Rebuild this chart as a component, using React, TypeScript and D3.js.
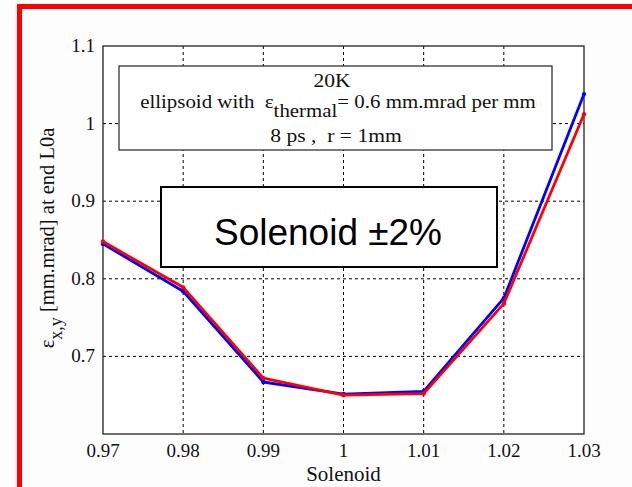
import React, { useEffect, useRef } from "react";
import * as d3 from "d3";

// solenoid scan, emittance at end of L0a
const solenoid = [0.97, 0.98, 0.99, 1.0, 1.01, 1.02, 1.03];
const emitBlue = [0.845, 0.784, 0.667, 0.6515, 0.655, 0.775, 1.038];
const emitRed = [0.848, 0.789, 0.672, 0.65, 0.652, 0.768, 1.012];
const xTickValues = [0.97, 0.98, 0.99, 1.0, 1.01, 1.02, 1.03];
const yTickValues = [0.7, 0.8, 0.9, 1.0, 1.1];
const serif = "'Liberation Serif', 'Times New Roman', serif";
const sans = "'Liberation Sans', Arial, sans-serif";

const App = () => {
  const svgRef = useRef<SVGSVGElement>(null);

  useEffect(() => {
    const W = 632, H = 487;
    const margin = { top: 46, right: 48, bottom: 53, left: 103 };
    const width = W - margin.left - margin.right;
    const height = H - margin.top - margin.bottom;

    const svg = d3.select(svgRef.current);
    svg.selectAll("*").remove();
    svg.attr("width", W).attr("height", H)
      .style("display", "block").style("overflow", "hidden");

    svg.append("rect").attr("width", W).attr("height", H).attr("fill", "#fdfdfd");
    // red slide frame (only top and left edges are in view)
    svg.append("line")
      .attr("x1", 17).attr("x2", W).attr("y1", 6.5).attr("y2", 6.5)
      .attr("stroke", "#ff0000").attr("stroke-width", 5);
    svg.append("line")
      .attr("x1", 19.5).attr("x2", 19.5).attr("y1", 4).attr("y2", H)
      .attr("stroke", "#ff0000").attr("stroke-width", 5);

    const x = d3.scaleLinear().domain([0.97, 1.03]).range([0, width]);
    const y = d3.scaleLinear().domain([0.6, 1.1]).range([height, 0]);

    const chart = svg.append("g")
      .attr("transform", `translate(${margin.left},${margin.top})`);

    chart.append("rect").attr("width", width).attr("height", height).attr("fill", "#fff");

    // grid
    chart.selectAll(".vgrid")
      .data(xTickValues.slice(1, -1))
      .enter().append("line")
      .attr("x1", d => x(d)).attr("x2", d => x(d))
      .attr("y1", 0).attr("y2", height)
      .attr("stroke", "#000").attr("stroke-width", 1).attr("stroke-dasharray", "3,3");
    chart.selectAll(".hgrid")
      .data(yTickValues.slice(0, -1))
      .enter().append("line")
      .attr("x1", 0).attr("x2", width)
      .attr("y1", d => y(d)).attr("y2", d => y(d))
      .attr("stroke", "#000").attr("stroke-width", 1).attr("stroke-dasharray", "3,3");

    // axes box
    chart.append("rect").attr("width", width).attr("height", height)
      .attr("fill", "none").attr("stroke", "#222").attr("stroke-width", 1.3);

    // tick labels
    chart.selectAll(".xlab")
      .data(xTickValues)
      .enter().append("text")
      .attr("x", d => x(d)).attr("y", height + 23)
      .attr("text-anchor", "middle")
      .attr("font-family", serif).attr("font-size", 19)
      .attr("fill", "#111")
      .text(d => d3.format("~g")(d));
    chart.selectAll(".ylab")
      .data(yTickValues)
      .enter().append("text")
      .attr("x", -8).attr("y", d => y(d) + 6)
      .attr("text-anchor", "end")
      .attr("font-family", serif).attr("font-size", 19)
      .attr("fill", "#111")
      .text(d => d3.format("~g")(d));

    // annotation box (text a bit stretched sideways, as in the slide)
    const note = chart.append("g");
    note.append("rect")
      .attr("x", 16).attr("y", 20).attr("width", 433).attr("height", 84)
      .attr("fill", "#fff").attr("stroke", "#333").attr("stroke-width", 1.3);
    const noteText = (cx: number, by: number, sx = 1.2) =>
      note.append("text")
        .attr("transform", `translate(${cx},${by}) scale(${sx},1)`)
        .attr("text-anchor", "middle")
        .attr("font-family", serif).attr("font-size", 18).attr("fill", "#111")
        .style("white-space", "pre");
    noteText(229, 41).text("20K");
    const l2 = noteText(235, 62, 1.16);
    l2.append("tspan").text("ellipsoid with  \u03b5");
    l2.append("tspan").attr("dy", 9).text("thermal");
    l2.append("tspan").attr("dy", -9).text("= 0.6 mm.mrad per mm");
    noteText(233, 96).text("8 ps ,  r = 1mm");

    // solenoid box
    chart.append("rect")
      .attr("x", 58).attr("y", 141).attr("width", 336).attr("height", 80)
      .attr("fill", "#fff").attr("stroke", "#000").attr("stroke-width", 2);
    chart.append("text")
      .attr("x", 225).attr("y", 199).attr("text-anchor", "middle")
      .attr("font-family", sans).attr("font-size", 37).attr("fill", "#000")
      .text("Solenoid \u00b12%");

    // lines
    const line = d3.line<number>()
      .x((d, i) => x(solenoid[i]))
      .y(d => y(d));
    [[emitBlue, "#0000ff"], [emitRed, "#ff0000"]].forEach(([vals, color]) => {
      chart.append("path")
        .datum(vals as number[])
        .attr("d", line)
        .attr("fill", "none")
        .attr("stroke", color as string)
        .attr("stroke-width", 2.8)
        .attr("stroke-linejoin", "round");
      chart.selectAll(null)
        .data(vals as number[])
        .enter().append("circle")
        .attr("cx", (d, i) => x(solenoid[i]))
        .attr("cy", d => y(d))
        .attr("r", 2.2)
        .attr("fill", color as string);
    });

    // axis titles
    svg.append("text")
      .attr("x", margin.left + width / 2).attr("y", 481)
      .attr("text-anchor", "middle")
      .attr("font-family", serif).attr("font-size", 21).attr("fill", "#111")
      .text("Solenoid");
    const yl = svg.append("text")
      .attr("transform", "translate(54,238) rotate(-90)")
      .attr("text-anchor", "middle")
      .attr("font-family", serif).attr("font-size", 20.5).attr("fill", "#111");
    yl.append("tspan").text("\u03b5");
    yl.append("tspan").attr("dy", 8).attr("font-size", 18).text("x,y");
    yl.append("tspan").attr("dy", -8).text(" [mm.mrad] at end L0a");
  }, []);

  return (
    <div style={{ position: "absolute", left: 0, top: 0 }}>
      <svg ref={svgRef}></svg>
    </div>
  );
};

export default App;
